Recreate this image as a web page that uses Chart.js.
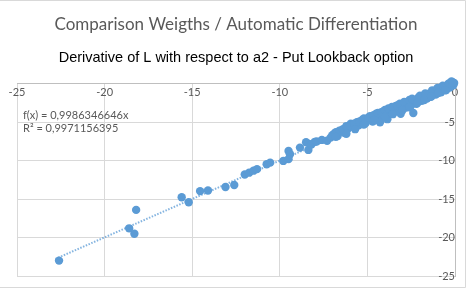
<!DOCTYPE html>
<html><head><meta charset="utf-8">
<script src="https://cdn.jsdelivr.net/npm/chart.js@4/dist/chart.umd.min.js"></script>
<style>html,body{margin:0;padding:0;background:#fff}#wrap{width:468px;height:288px;position:relative}</style>
</head><body><div id="wrap"><canvas id="c" width="468" height="288"></canvas></div>
<script>
const titleText = "Comparison Weigths / Automatic Differentiation";
const subtitleText = "Derivative of L with respect to a2 - Put Lookback option";
const equationText = ["f(x) = 0,9986346646x", "R² = 0,9971156395"];
const slope = 0.9986346646;
const trendRange = [-22.8, 0];
const xTicks = [-25, -20, -15, -10, -5, 0];
const yTicks = [-25, -20, -15, -10, -5, 0];
const xValues = [-22.6,-18.2,-18.6,-18.3,-15.6,-15.2,-14.55,-14.1,-13.1,-12.6,
  -12.0,-11.75,-11.5,-11.3,-10.75,-10.55,-9.8,-9.5,-9.42,-9.5,-8.85,-8.37,-8.28,-8.0,
  -8.5,-8.2,-7.9,-7.6,-7.3,-7.1,-6.9,-6.7,-6.5,-6.3,-6.1,-5.95,-5.8,-5.6,-5.5,-5.3,-5.1,-5.0,
  -4.85,-4.7,-4.5,-4.3,-4.28,-4.1,-3.95,-3.86,-3.7,-3.5,-3.4,-3.2,-3.1,-3.0,-2.8,-2.7,-2.5,
  -2.38,-2.3,-2.2,-2.1,-1.9,-1.8,-1.6,-1.5,-1.4,-1.2,-1.1,-0.9,-0.8,-0.6,-0.5,-0.4,-0.3,-0.2,-0.1,-0.05,
  -7.0,-6.8,-6.6,-6.4,-6.2,-6.0,-5.75,-5.45,-5.2,-4.95,-4.65,-4.4,-4.2,-4.0,-3.8,-3.6,-3.3,-3.15,-2.9,
  -2.6,-2.45,-2.0,-1.7,-1.3,-1.0,-0.7,-0.35,-0.15,
  -6.8,-6.2,-5.7,-5.2,-4.6,-4.0,-3.55,-3.0,-2.6,-2.15,-1.75,-1.35,-0.95,-0.55];
const yValues = [-23.0,-16.4,-18.8,-19.5,-14.75,-15.4,-13.96,-13.87,-13.43,-13.17,
  -11.8,-11.56,-11.3,-11.1,-10.47,-10.25,-10.03,-8.73,-9.16,-9.8,-8.3,-8.6,-7.85,-7.55,
  -7.6,-7.9,-7.5,-7.3,-7.4,-7.0,-6.5,-6.8,-6.2,-6.4,-5.8,-5.2,-5.6,-5.0,-5.4,-4.7,-5.1,-4.6,
  -4.2,-4.9,-3.9,-4.3,-5.0,-3.6,-4.0,-4.6,-3.3,-3.7,-2.9,-3.3,-3.9,-2.7,-3.1,-2.4,-2.8,
  -3.8,-2.2,-2.6,-1.8,-2.2,-1.6,-1.9,-1.3,-1.7,-1.0,-1.4,-0.7,-1.1,-0.4,-0.8,-0.1,-0.5,0.3,-0.2,0.1,
  -6.7,-6.3,-6.1,-5.9,-5.5,-5.5,-5.2,-4.9,-4.5,-4.4,-4.1,-3.8,-3.7,-3.4,-3.2,-3.0,-2.8,-2.6,-2.35,
  -2.1,-1.95,-1.55,-1.25,-0.85,-0.55,-0.25,0.05,0.2,
  -6.9,-6.5,-5.9,-5.3,-4.75,-4.3,-3.95,-3.45,-3.05,-2.5,-2.1,-1.65,-1.2,-0.85];

const points = xValues.map((x, i) => ({x, y: yValues[i]}));
const trend = trendRange.map(x => ({x, y: slope * x}));

const frame = {
  id: 'frame',
  beforeDraw(chart) {
    const ctx = chart.ctx;
    ctx.save();
    ctx.strokeStyle = '#d9d9d9';
    ctx.lineWidth = 1;
    ctx.beginPath();
    ctx.moveTo(0, 0.5); ctx.lineTo(465.5, 0.5); ctx.lineTo(465.5, 287.5); ctx.lineTo(0, 287.5);
    ctx.stroke();
    ctx.restore();
  },
  afterDraw(chart) {
    const ctx = chart.ctx;
    ctx.save();
    ctx.fillStyle = '#595959';
    ctx.font = '11px Lato';
    ctx.textBaseline = 'middle';
    ctx.fillText(equationText[0], 23, 115);
    ctx.fillText(equationText[1], 23, 128);
    ctx.restore();
  }
};

new Chart(document.getElementById('c'), {
  type: 'scatter',
  data: {
    datasets: [
      {
        type: 'line',
        data: trend,
        borderColor: 'rgba(91,155,213,0.75)',
        borderWidth: 2,
        borderDash: [1.5, 1.5],
        pointRadius: 0,
        fill: false,
        order: 2
      },
      {
        data: points,
        backgroundColor: '#5b9bd5',
        borderColor: '#5b9bd5',
        pointRadius: 4.2,
        pointBorderWidth: 0,
        clip: false,
        order: 1
      }
    ]
  },
  plugins: [frame],
  options: {
    responsive: false,
    animation: false,
    layout: { padding: { left: 17, right: 13, bottom: 12, top: 0 } },
    plugins: {
      legend: { display: false },
      tooltip: { enabled: false },
      title: {
        display: true, text: titleText, color: '#595959',
        font: { family: 'Lato', size: 17, weight: 'normal', lineHeight: 1.2 },
        padding: { top: 14, bottom: 0 }
      },
      subtitle: {
        display: true, text: subtitleText, color: '#000000',
        font: { family: 'Liberation Sans', size: 14.5, weight: 'normal', lineHeight: 1.2 },
        padding: { top: 15, bottom: 17 }
      }
    },
    scales: {
      x: {
        type: 'linear', min: -25, max: 0,
        position: { y: 0 },
        afterFit(s) { s.height = 0; },
        afterBuildTicks(s) { s.ticks = xTicks.map(v => ({value: v})); },
        grid: { color: '#d9d9d9', lineWidth: 1, drawTicks: false },
        border: { color: '#bfbfbf' },
        ticks: { color: '#595959', font: { family: 'Lato', size: 11 }, padding: 2 }
      },
      y: {
        type: 'linear', min: -25, max: 0,
        position: { x: 0 },
        afterFit(s) { s.width = 0; },
        afterBuildTicks(s) { s.ticks = yTicks.map(v => ({value: v})); },
        grid: { color: '#d9d9d9', lineWidth: 1, drawTicks: false },
        border: { color: '#bfbfbf' },
        ticks: { color: '#595959', font: { family: 'Lato', size: 11 }, padding: 3 }
      }
    }
  }
});
</script></body></html>
